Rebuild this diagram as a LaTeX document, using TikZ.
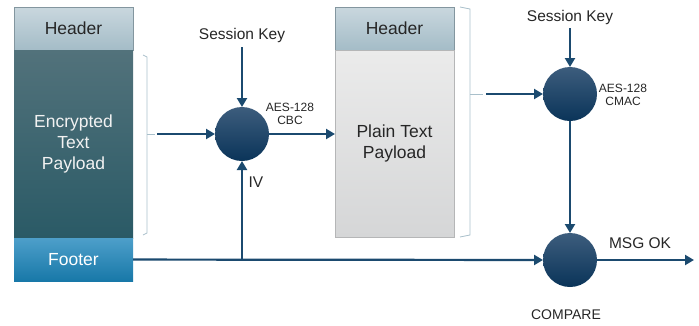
\documentclass[tikz,border=0pt]{standalone}
\usepackage{fontspec}
\setmainfont{Liberation Sans}
\usepackage{tikz}
\usetikzlibrary{arrows.meta}
\definecolor{hdrtop}{HTML}{C9D7DE}
\definecolor{hdrbot}{HTML}{A4BCC7}
\definecolor{enctop}{HTML}{52727B}
\definecolor{encbot}{HTML}{2A5A66}
\definecolor{ftrtop}{HTML}{4D9FCA}
\definecolor{ftrbot}{HTML}{1878A8}
\definecolor{plntop}{HTML}{EBEBEB}
\definecolor{plnbot}{HTML}{D5D6D7}
\definecolor{ciphtop}{HTML}{3D5D7D}
\definecolor{ciphbot}{HTML}{0A3459}
\definecolor{flownavy}{HTML}{1B4A6F}
\definecolor{brackgray}{HTML}{A9C0CB}

\begin{document}
\begin{tikzpicture}[x=1pt,y=-1pt,
    every node/.style={inner sep=0pt,outer sep=0pt},
    blk/.style={anchor=north west,minimum width=119pt,align=center,
      font={\fontsize{17.5}{21}\selectfont}},
    hdr/.style={blk,minimum height=43pt,top color=hdrtop,bottom color=hdrbot,
      draw=hdrbot!80!black,line width=0.4pt,text=black!85},
    cipher/.style={circle,minimum size=54pt,top color=ciphtop,bottom color=ciphbot},
    lbl/.style={font={\fontsize{15.5}{17}\selectfont},text=black!85},
    alg/.style={font={\fontsize{12}{13}\selectfont},align=center,text=black!85},
    flow/.style={draw=flownavy,line width=2.2pt,-{Triangle[width=10pt,length=9pt]}},
    brack/.style={draw=brackgray,line width=0.8pt}]
    \useasboundingbox (0,0) rectangle (699,325);
    % encrypted packet
    \node[hdr] (hdrA) at (14,7) {Header};
    \node[blk,minimum height=188pt,top color=enctop,bottom color=encbot,text=white!95!black] (encA) at (14,50) {Encrypted\\Text\\Payload};
    \node[blk,minimum height=43pt,top color=ftrtop,bottom color=ftrbot,text=white] (ftrA) at (14,238) {Footer};
    % decrypted packet
    \node[hdr] (hdrB) at (335,7) {Header};
    \node[blk,minimum height=187pt,top color=plntop,bottom color=plnbot,draw=plnbot!85!black,line width=0.4pt,text=black!85] (plainB) at (335,50) {Plain Text\\Payload};
    % cipher blocks
    \node[cipher] (cbc) at (242,134) {};
    \node[cipher] (cmac) at (570,94) {};
    \node[cipher] (cmp) at (570,260) {};
    \node[lbl,outer sep=5pt] (keyA) at (242,35) {Session Key};
    \node[lbl,outer sep=4pt] (keyB) at (570,17) {Session Key};
    \node[alg] (algA) at (290,114) {AES-128\\CBC};
    \node[alg] (algB) at (623,95) {AES-128\\CMAC};
    \node[lbl] (ivlbl) at (256,182) {IV};
    \node[lbl] (oklbl) at (640,243) {MSG OK};
    \node[lbl,font={\fontsize{14}{16}\selectfont}] (cmplbl) at (566,315) {COMPARE};
    % brackets
    \draw[brack] (143,55) -- (147,57) -- (147,233) -- (143,235);
    \draw[brack] (147,134) -- (155,134);
    \draw[brack] (460,7) -- (470,9) -- (470,235) -- (460,237);
    \draw[brack] (470,94) -- (483,94);
    \coordinate (brA) at (157,134);
    \coordinate (brB) at (486,94);
    \coordinate (okend) at (694,260);
    % connectors
    \draw[flow] (keyA) -- (cbc);
    \draw[flow] (brA) -- (cbc);
    \draw[flow] (cbc) -- (cbc -| plainB.west);
    \draw[flow] (cbc |- ftrA.east) -- (cbc);
    \draw[flow] (ftrA) -- (cmp);
    \draw[flow] (keyB) -- (cmac);
    \draw[flow] (brB) -- (cmac);
    \draw[flow] (cmac) -- (cmp);
    \draw[flow] (cmp) -- (okend);
\end{tikzpicture}
\end{document}
